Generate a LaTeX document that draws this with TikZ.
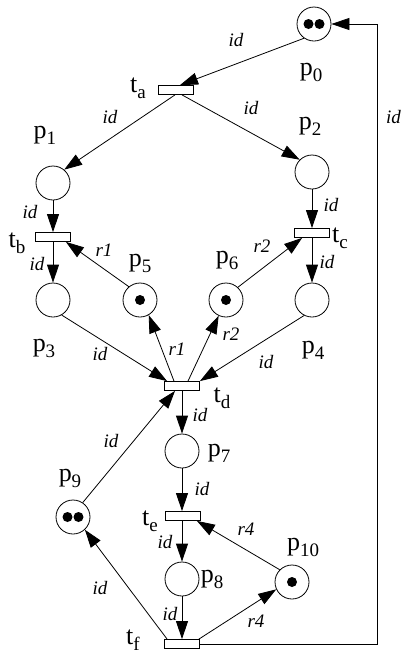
\documentclass[tikz,border=0pt]{standalone}
\usepackage{fontspec}
\setmainfont{Liberation Serif}
\usetikzlibrary{arrows.meta,calc}
\newcommand{\psub}[2]{#1\raisebox{-6pt}{\fontsize{19}{19}\selectfont #2}}
\begin{document}
\begin{tikzpicture}[x=1pt,y=-1pt,
  place/.style={circle,draw,minimum size=34pt,inner sep=0pt,line width=0.8pt},
  trans/.style={rectangle,draw,fill=white,minimum width=35pt,minimum height=9pt,inner sep=0pt,line width=0.8pt},
  arc/.style={line width=0.8pt,-{Triangle[length=18pt,width=12pt]}},
  lbl/.style={font=\fontsize{26}{26}\selectfont,inner sep=0pt},
  elbl/.style={font=\fontsize{19}{19}\selectfont\itshape,inner sep=0pt},
  tok/.style={circle,fill,inner sep=0pt,minimum size=10pt}]
\useasboundingbox (0,0) rectangle (401,654);
% places
\node[place] (p0) at (314,24) {};
\node[place] (p1) at (53,183) {};
\node[place] (p2) at (312,172) {};
\node[place] (p3) at (53,300) {};
\node[place] (p4) at (312,300) {};
\node[place] (p5) at (140,300) {};
\node[place] (p6) at (226,300) {};
\node[place] (p7) at (182,451) {};
\node[place] (p8) at (182,579) {};
\node[place] (p9) at (73,517) {};
\node[place] (p10) at (292,582) {};
% tokens
\node[tok] (k0a) at (308.5,24) {};
\node[tok] (k0b) at (319.5,24) {};
\node[tok] (k9a) at (67.5,517) {};
\node[tok] (k9b) at (78.5,517) {};
\node[tok] (k5) at (p5) {};
\node[tok] (k6) at (p6) {};
\node[tok] (k10) at (p10) {};
% transitions
\node[trans] (ta) at (176,90) {};
\node[trans] (tb) at (53,237) {};
\node[trans] (tc) at (312,233) {};
\node[trans] (td) at (182,386) {};
\node[trans] (te) at (183,516) {};
\node[trans] (tf) at (182,644) {};
% place / transition labels
\node[lbl] (lp0) at (311,72) {\psub{p}{0}};
\node[lbl] (lp1) at (45,135) {\psub{p}{1}};
\node[lbl] (lp2) at (310,126) {\psub{p}{2}};
\node[lbl] (lp3) at (44,348) {\psub{p}{3}};
\node[lbl] (lp4) at (313,350) {\psub{p}{4}};
\node[lbl] (lp5) at (140,263) {\psub{p}{5}};
\node[lbl] (lp6) at (227,260) {\psub{p}{6}};
\node[lbl] (lp7) at (219,453) {\psub{p}{7}};
\node[lbl] (lp8) at (212,579) {\psub{p}{8}};
\node[lbl] (lp9) at (70,478) {\psub{p}{9}};
\node[lbl] (lp10) at (303,547) {\psub{p}{10}};
\node[lbl] (lta) at (138,88) {\psub{t}{a}};
\node[lbl] (ltb) at (17,243) {\psub{t}{b}};
\node[lbl] (ltc) at (340,238) {\psub{t}{c}};
\node[lbl] (ltd) at (222,398) {\psub{t}{d}};
\node[lbl] (lte) at (150,521) {\psub{t}{e}};
\node[lbl] (ltf) at (133,640) {\psub{t}{f}};
% helper coordinates
\coordinate (c1) at (377,644);
\coordinate (c2) at (377,24);
% arcs
\draw[arc] (p0.235) -- ($(ta.north)+(4,0)$);
\draw[arc] ($(ta.south)+(-1,0)$) -- (p1.50);
\draw[arc] ($(ta.south)+(6,0)$) -- (p2.135);
\draw[arc] (p1.south) -- (tb.north);
\draw[arc] (tb.south) -- (p3.north);
\draw[arc] (p5.130) -- ($(tb.south east)+(-5,0)$);
\draw[arc] (p2.south) -- (tc.north);
\draw[arc] (tc.south) -- (p4.north);
\draw[arc] (p6.47) -- ($(tc.south west)+(8,0)$);
\draw[arc] (p3.300) -- ($(td.north west)+(3,0)$);
\draw[arc] ($(td.north)+(-8,0)$) -- (p5.300);
\draw[arc] ($(td.north)+(6,0)$) -- (p6.245);
\draw[arc] (p4.243) -- ($(td.north east)+(0,0)$);
\draw[arc] (td.south) -- (p7.north);
\draw[arc] (p9.56) -- ($(td.south)+(-7,0)$);
\draw[arc] (p7.south) -- ($(te.north)+(-1,0)$);
\draw[arc] ($(te.south)+(-1,0)$) -- (p8.north);
\draw[arc] (p10.135) -- ($(te.south east)+(-4,0)$);
\draw[arc] (p8.south) -- (tf.north);
\draw[arc] ($(tf.north east)+(-1,0)$) -- (p10.205);
\draw[arc] ($(tf.north west)+(3,0)$) -- (p9.313);
\draw[arc] (tf.east) -- (c1) -- (c2) -- (p0.east);
% arc labels
\node[elbl] (e1) at (236,40) {id};
\node[elbl] (e2) at (110,117) {id};
\node[elbl] (e3) at (251,108) {id};
\node[elbl] (e4) at (30,212) {id};
\node[elbl] (e5) at (37,264) {id};
\node[elbl] (e6) at (104,250) {r1};
\node[elbl] (e7) at (331,205) {id};
\node[elbl] (e8) at (327,262) {id};
\node[elbl] (e9) at (262,246) {r2};
\node[elbl] (e10) at (100,354) {id};
\node[elbl] (e11) at (177,349) {r1};
\node[elbl] (e12) at (231,334) {r2};
\node[elbl] (e13) at (266,362) {id};
\node[elbl] (e14) at (200,415) {id};
\node[elbl] (e15) at (111,441) {id};
\node[elbl] (e16) at (202,489) {id};
\node[elbl] (e17) at (165,542) {id};
\node[elbl] (e18) at (246,529) {r4};
\node[elbl] (e19) at (170,614) {id};
\node[elbl] (e20) at (256,621) {r4};
\node[elbl] (e21) at (100,588) {id};
\node[elbl,anchor=west] (e22) at (386,117) {id};
\end{tikzpicture}
\end{document}
